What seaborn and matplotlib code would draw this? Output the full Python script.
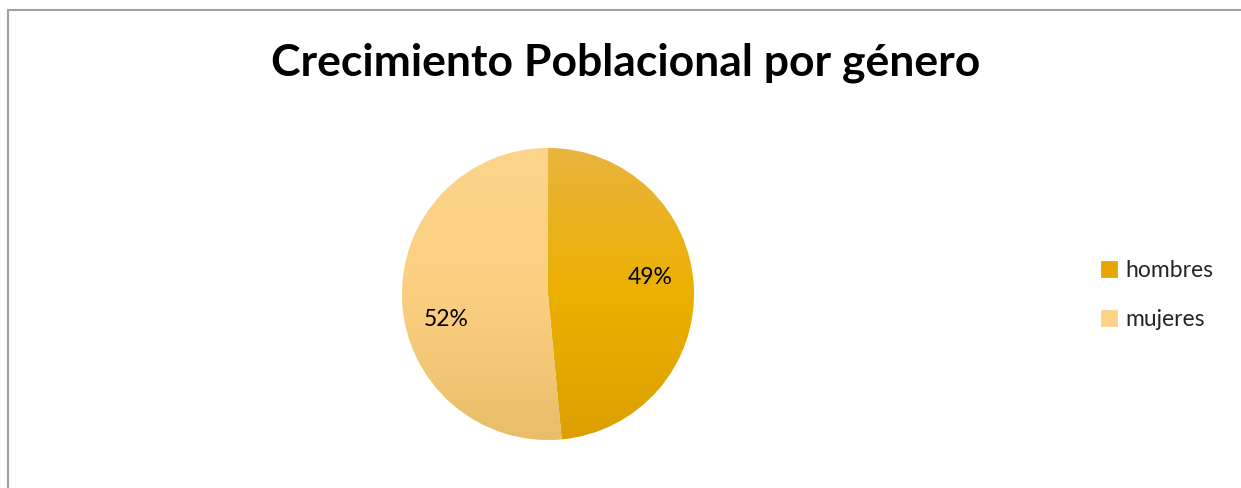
import numpy as np
import seaborn as sns
import matplotlib.pyplot as plt
from matplotlib.colors import to_rgb
from matplotlib.lines import Line2D

# datos del grafico
categorias = ["hombres", "mujeres"]
valores = [48.5, 51.5]
titulo = "Crecimiento Poblacional por género"

# colores (arriba, medio, abajo) de cada porcion con degradado
colores_grad = {
    "hombres": ["#E9B43E", "#ECB000", "#DBA000"],
    "mujeres": ["#FDD48C", "#FBCF80", "#E8BE6A"],
}
colores_leyenda = sns.color_palette(["#E6A800", "#FDD38A"])

sns.set_theme(style="white")
plt.rcParams["font.family"] = ["Lato", "DejaVu Sans"]

fig = plt.figure(figsize=(12.41, 4.88), dpi=100)
ax = fig.add_axes([402 / 1241, 48 / 488, 292 / 1241, 292 / 488])


def pct_fmt(p):
    return f"{int(p + 0.5 + 1e-9)}%"


wedges, textos, autotextos = ax.pie(
    valores, colors=colores_leyenda, startangle=90, counterclock=False,
    autopct=pct_fmt, pctdistance=0.7,
    textprops={"fontsize": 16.5, "color": "black"},
)
ax.set_xlim(-1, 1)
ax.set_ylim(-1, 1)
ax.set_aspect("equal")
ax.axis("off")


def degradado(stops, n=256):
    c = [np.array(to_rgb(s)) for s in stops]
    t = np.linspace(0, 1, n)
    filas = []
    for v in t:
        if v < 0.5:
            f = v / 0.5
            filas.append(c[0] * (1 - f) + c[1] * f)
        else:
            f = (v - 0.5) / 0.5
            filas.append(c[1] * (1 - f) + c[2] * f)
    return np.array(filas).reshape(n, 1, 3)


for w, cat in zip(wedges, categorias):
    img = ax.imshow(degradado(colores_grad[cat]), extent=[-1, 1, -1, 1],
                    aspect="auto", zorder=w.get_zorder() + 0.1, interpolation="bilinear")
    img.set_clip_path(w)
    w.set_edgecolor("white")
    w.set_linewidth(0.6)

# Excel sube un poco la etiqueta de hombres y baja la de mujeres
ajuste_y = [0.08, -0.14]
for t, dy in zip(autotextos, ajuste_y):
    x, y = t.get_position()
    t.set_position((x, y + dy))
    t.set_zorder(5)

fig.text(0.504, 1 - 63 / 488, titulo, ha="center", va="center",
         fontsize=32, fontweight="bold", color="black")

fig.legend(wedges, categorias, loc="center left",
           bbox_to_anchor=(1101 / 1241, 1 - 295 / 488),
           frameon=False, fontsize=16.5, handlelength=0.7, handleheight=0.7,
           handletextpad=0.35, labelspacing=1.2, borderpad=0, borderaxespad=0)
leg = fig.legends[0]
for h, c in zip(leg.legend_handles, colores_leyenda):
    h.set_facecolor(c)
    h.set_edgecolor(c)

# marco gris (solo arriba e izquierda visibles)
fig.add_artist(Line2D([8 / 1241, 1], [1 - 10 / 488, 1 - 10 / 488],
                      color="#A0A0A0", lw=1.5, transform=fig.transFigure))
fig.add_artist(Line2D([8 / 1241, 8 / 1241], [0, 1 - 10 / 488],
                      color="#A0A0A0", lw=1.5, transform=fig.transFigure))

fig.savefig("out.png", dpi=100, facecolor="white")
